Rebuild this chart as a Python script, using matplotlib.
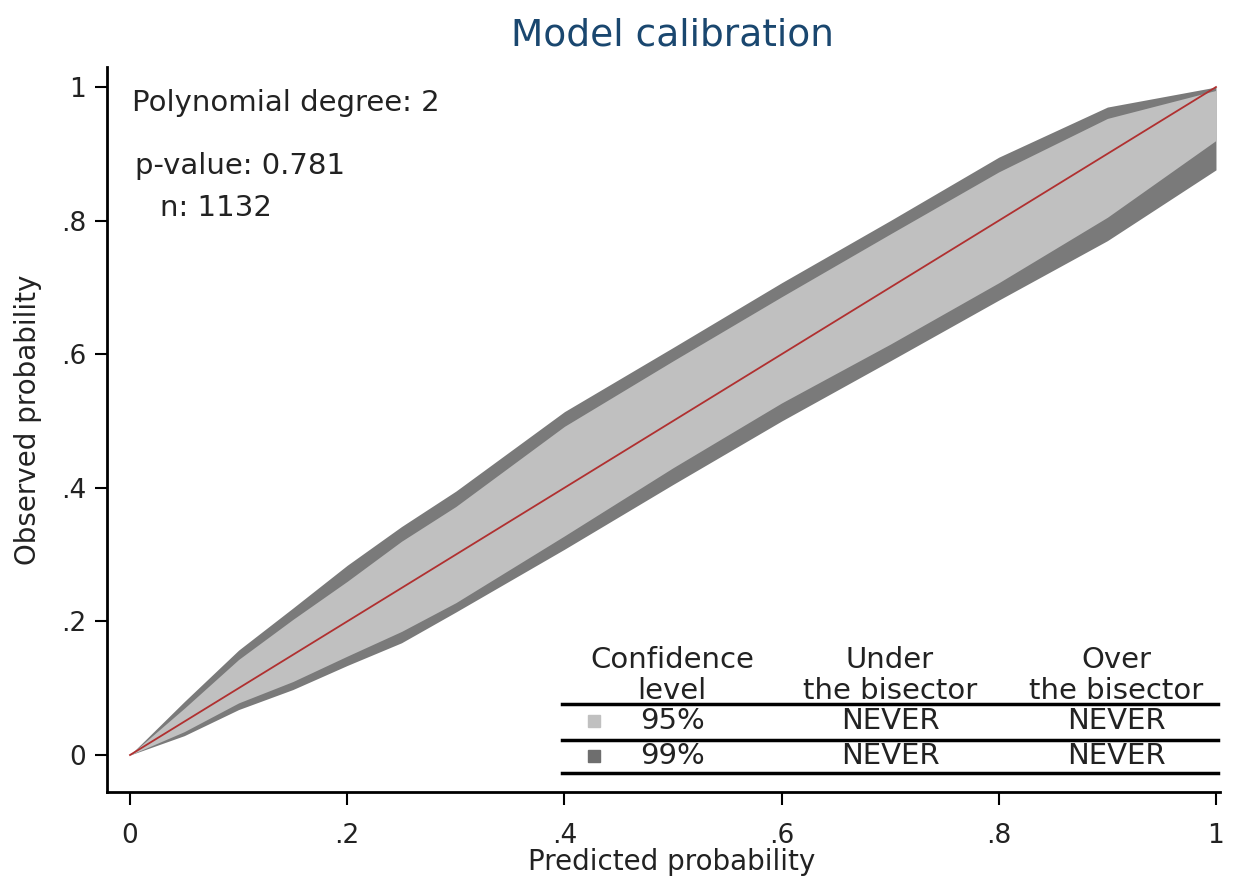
import matplotlib
matplotlib.use("Agg")
import matplotlib.pyplot as plt

# ---- data ----
pred = [0.0, 0.05, 0.1, 0.15, 0.2, 0.25, 0.3, 0.4, 0.5, 0.6, 0.7, 0.8, 0.9, 1.0]
ci99_upper = [0.0, 0.08, 0.157, 0.22, 0.284, 0.342, 0.395, 0.514, 0.61, 0.707, 0.80, 0.895, 0.97, 1.0]
ci95_upper = [0.0, 0.07, 0.143, 0.203, 0.26, 0.32, 0.372, 0.492, 0.59, 0.686, 0.78, 0.873, 0.953, 0.995]
ci95_lower = [0.0, 0.035, 0.078, 0.11, 0.148, 0.185, 0.228, 0.328, 0.43, 0.527, 0.615, 0.707, 0.805, 0.92]
ci99_lower = [0.0, 0.029, 0.068, 0.098, 0.134, 0.168, 0.214, 0.308, 0.405, 0.50, 0.59, 0.681, 0.77, 0.876]
fit_x = [0.0, 0.1, 0.2, 0.3, 0.4, 0.5, 0.6, 0.7, 0.8, 0.9, 1.0]
fit_y = [0.0, 0.1, 0.2, 0.3, 0.4, 0.5, 0.6, 0.7, 0.8, 0.9, 1.0]

xticks = [0, 0.2, 0.4, 0.6, 0.8, 1.0]
xticklabels = ["0", ".2", ".4", ".6", ".8", "1"]
yticks = [0, 0.2, 0.4, 0.6, 0.8, 1.0]
yticklabels = ["0", ".2", ".4", ".6", ".8", "1"]

stats_lines = ["Polynomial degree: 2", "p-value: 0.781", "n: 1132"]
table_header = [("Confidence", "level"), ("Under", "the bisector"), ("Over", "the bisector")]
table_levels = ["95%", "99%"]
table_under = ["NEVER", "NEVER"]
table_over = ["NEVER", "NEVER"]

LIGHT = "#c0c0c0"
DARK = "#7a7a7a"
TXT = "#222222"

W, H = 1234, 876
fig = plt.figure(figsize=(W / 100, H / 100), dpi=100)
fig.patch.set_facecolor("white")

def fx(px):
    return px / W

def fy(py):
    return 1 - py / H

ax = fig.add_axes([fx(107), fy(792), fx(1220) - fx(107), fy(67) - fy(792)])
ax.set_xlim(-0.0212, 1.0037)
ax.set_ylim(-0.0554, 1.03)

ax.fill_between(pred, ci99_lower, ci99_upper, color=DARK, lw=0)
ax.fill_between(pred, ci95_lower, ci95_upper, color=LIGHT, lw=0)
ax.plot(fit_x, fit_y, color="#b03030", lw=1.3)

for s in ["top", "right"]:
    ax.spines[s].set_visible(False)
for s in ["left", "bottom"]:
    ax.spines[s].set_linewidth(2)

ax.set_xticks(xticks)
ax.set_xticklabels(xticklabels)
ax.set_yticks(yticks)
ax.set_yticklabels(yticklabels)
ax.tick_params(axis="x", length=9, width=1.5, pad=13, labelsize=19, labelcolor=TXT)
ax.tick_params(axis="y", length=9, width=1.5, pad=6, labelsize=19, labelcolor=TXT)

fig.text(fx(672), fy(35), "Model calibration", ha="center", va="center",
         fontsize=27, color="#1a476f")
fig.text(fx(672), fy(862), "Predicted probability", ha="center", va="center",
         fontsize=20, color=TXT)
fig.text(fx(28), fy(420), "Observed probability", ha="center", va="center",
         rotation=90, fontsize=20, color=TXT)

fig.text(fx(132), fy(103), stats_lines[0], ha="left", va="center", fontsize=21, color=TXT)
fig.text(fx(135), fy(166), stats_lines[1], ha="left", va="center", fontsize=21, color=TXT)
fig.text(fx(160), fy(208), stats_lines[2], ha="left", va="center", fontsize=21, color=TXT)

# table
col_x = [672, 890, 1116]
for cx, (h1, h2) in zip(col_x, table_header):
    fig.text(fx(cx), fy(660), h1, ha="center", va="center", fontsize=21, color=TXT)
    fig.text(fx(cx), fy(691), h2, ha="center", va="center", fontsize=21, color=TXT)

for py in [704, 740, 773]:
    fig.add_artist(plt.Line2D([fx(562), fx(1218)], [fy(py), fy(py)], color="black",
                              lw=2.5, transform=fig.transFigure))

row_y = [721, 756]
sq_colors = [LIGHT, "#6e6e6e"]
for ry, lev, un, ov, c in zip(row_y, table_levels, table_under, table_over, sq_colors):
    fig.patches.append(plt.Rectangle((fx(588), fy(ry + 6)), fx(12), 12 / H, color=c,
                                     transform=fig.transFigure))
    fig.text(fx(640), fy(ry), lev, ha="left", va="center", fontsize=21, color=TXT)
    fig.text(fx(col_x[1]), fy(ry), un, ha="center", va="center", fontsize=21, color=TXT)
    fig.text(fx(col_x[2]), fy(ry), ov, ha="center", va="center", fontsize=21, color=TXT)

fig.savefig("out.png", dpi=100)
